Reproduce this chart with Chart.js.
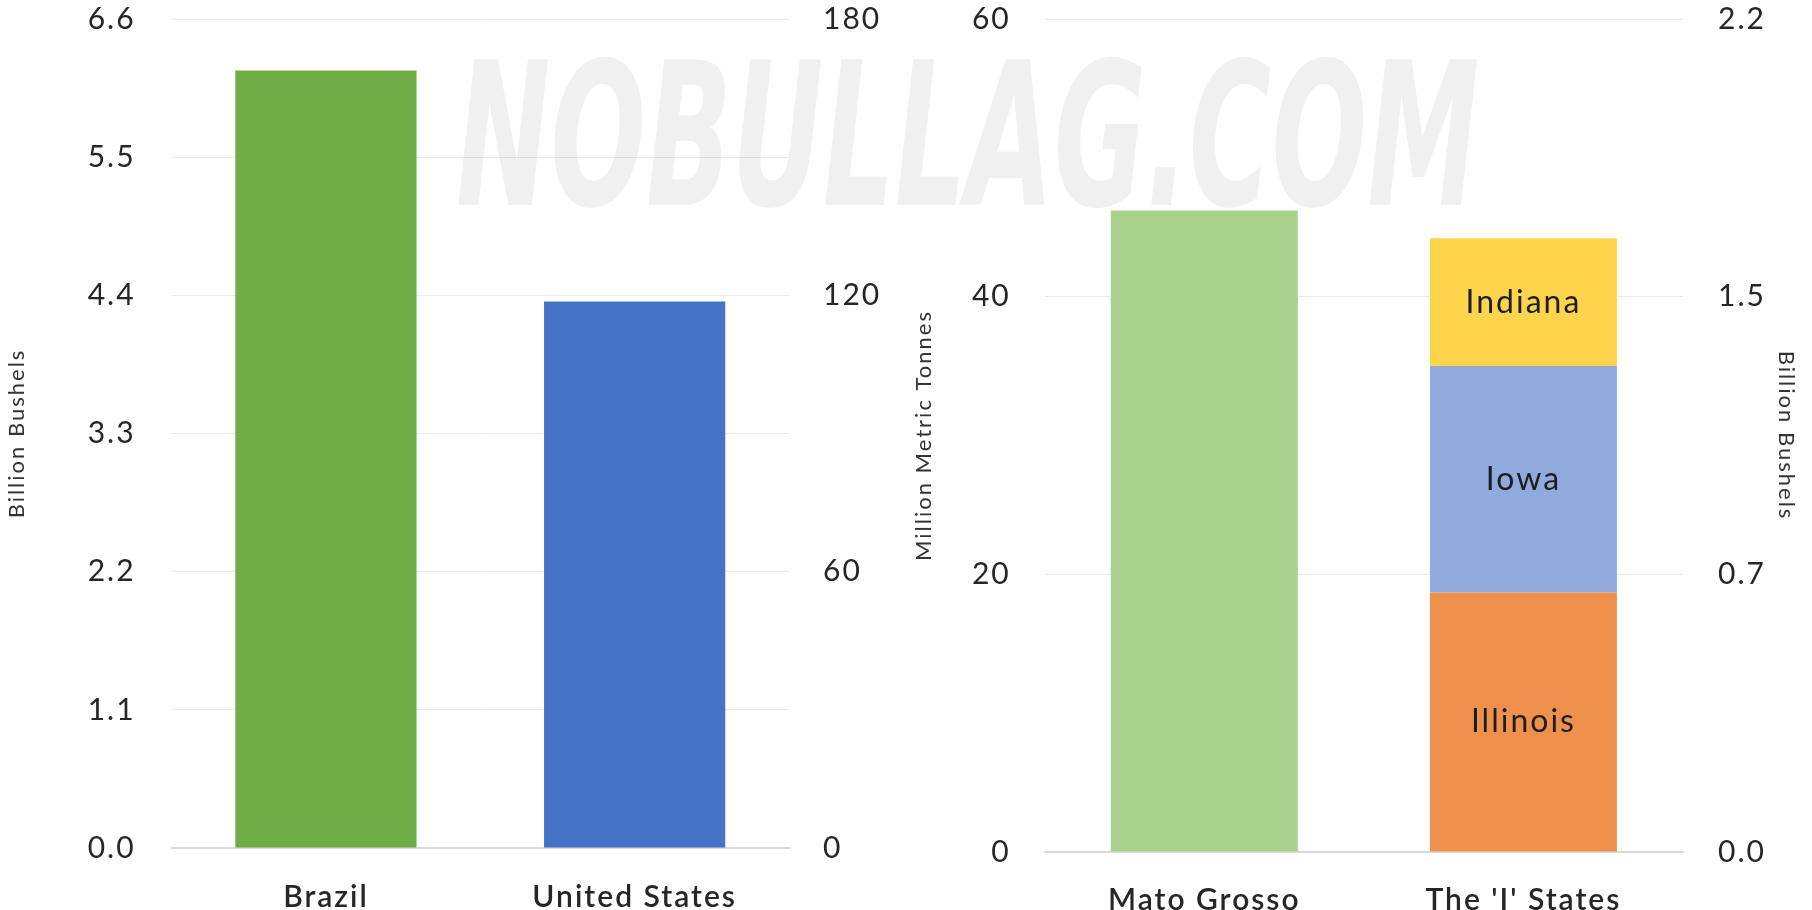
<!DOCTYPE html>
<html>
<head>
<meta charset="utf-8">
<script src="https://cdn.jsdelivr.net/npm/chart.js@4.4.0/dist/chart.umd.min.js"></script>
<style>
html, body { margin: 0; padding: 0; background: #fff; }
#wrap { position: relative; width: 1812px; height: 910px; overflow: hidden; }
#leftBox { position: absolute; left: 0; top: 0; width: 889px; height: 910px; }
#rightBox { position: absolute; left: 889px; top: 0; width: 923px; height: 910px; }
#mark {
    position: absolute; left: 456px; top: 36px; display: inline-block;
    font: italic bold 200px "Liberation Sans Narrow", "DejaVu Sans Condensed", sans-serif;
    color: rgba(0, 0, 0, 0.06); white-space: nowrap; pointer-events: none;
    transform-origin: 0 0; line-height: 1;
}
</style>
</head>
<body>
<div id="wrap">
    <div id="leftBox"><canvas id="leftChart"></canvas></div>
    <div id="rightBox"><canvas id="rightChart"></canvas></div>
    <span id="mark">NOBULLAG.COM</span>
</div>
<script>
// left panel: country totals, billion bushels
const countries = ['Brazil', 'United States'];
const countryBushels = [6.19, 4.35];
const bushelTicks = ['0.0', '1.1', '2.2', '3.3', '4.4', '5.5', '6.6'];
const tonneTicks = ['0', '60', '120', '180'];

// right panel: million metric tonnes
const regions = ['Mato Grosso', "The 'I' States"];
const matoGrosso = [46.2, null];
const illinois = [null, 18.7];
const iowa = [null, 16.3];
const indiana = [null, 9.2];
const mmtTicks = ['0', '20', '40', '60'];
const stateBushelTicks = ['0.0', '0.7', '1.5', '2.2'];

// squeeze the watermark to its width in the picture
const mark = document.getElementById('mark');
mark.style.transform = 'scaleX(' + (1023 / mark.offsetWidth) + ')';

const spacing = {
    id: 'spacing',
    beforeUpdate(chart) { chart.ctx.letterSpacing = '2px'; },
    beforeDraw(chart) { chart.ctx.letterSpacing = '2px'; }
};

// writes the state name in the middle of each stacked piece
const segmentNames = {
    id: 'segmentNames',
    afterDatasetsDraw(chart) {
        const ctx = chart.ctx;
        ctx.save();
        ctx.font = '32px Lato';
        ctx.fillStyle = '#1e1e1e';
        ctx.textAlign = 'center';
        ctx.textBaseline = 'middle';
        chart.data.datasets.forEach(function (ds, i) {
            if (!ds.showName) return;
            chart.getDatasetMeta(i).data.forEach(function (bar, j) {
                if (ds.data[j] == null) return;
                const p = bar.getProps(['x', 'y', 'base'], true);
                ctx.fillText(ds.label, p.x, (p.y + p.base) / 2);
            });
        });
        ctx.restore();
    }
};

// fixed axis width, and no extra room asked for the end labels
function fixWidth(w) {
    return function (s) { s.width = w; s.paddingTop = 0; s.paddingBottom = 0; };
}

const tickFont = { family: 'Lato', size: 30 };
const catFont = { family: 'Lato', size: 30, weight: '600' };
const titleFont = { family: 'Lato', size: 22 };
const gridColor = '#e9e9e9';

new Chart(document.getElementById('leftChart'), {
    type: 'bar',
    data: {
        labels: countries,
        datasets: [{
            label: 'Production',
            data: countryBushels,
            backgroundColor: ['#70AD47', '#4472C4'],
            categoryPercentage: 1,
            barPercentage: 0.587
        }]
    },
    options: {
        responsive: true, maintainAspectRatio: false, animation: false,
        layout: { padding: { top: 19, left: 0, right: 0, bottom: 0 } },
        plugins: { legend: { display: false }, tooltip: { enabled: false } },
        scales: {
            x: {
                grid: { display: false, drawTicks: false },
                border: { color: '#d9d9d9', width: 2 },
                ticks: { font: catFont, color: '#262626', padding: 31 },
                afterFit: function (s) { s.height = 62; }
            },
            y: {
                position: 'left', min: 0, max: 6.6,
                grid: { color: gridColor, drawTicks: false },
                border: { display: false },
                ticks: { stepSize: 1.1, font: tickFont, color: '#262626', padding: 36,
                    callback: function (v, i) { return bushelTicks[i]; } },
                title: { display: true, text: 'Billion Bushels', font: titleFont, color: '#333333',
                    padding: { top: 4, bottom: 0 } },
                afterFit: fixWidth(171.6)
            },
            y2: {
                position: 'right', min: 0, max: 6.6,
                grid: { display: false, drawTicks: false },
                border: { display: false },
                ticks: { stepSize: 2.2, font: tickFont, color: '#262626', padding: 34,
                    callback: function (v, i) { return tonneTicks[i]; } },
                afterFit: fixWidth(100)
            }
        }
    },
    plugins: [spacing]
});

new Chart(document.getElementById('rightChart'), {
    type: 'bar',
    data: {
        labels: regions,
        datasets: [
            { label: 'Mato Grosso', data: matoGrosso, backgroundColor: '#A9D18E' },
            { label: 'Illinois', data: illinois, backgroundColor: '#EF914C', showName: true },
            { label: 'Iowa', data: iowa, backgroundColor: '#8FAADC', showName: true },
            { label: 'Indiana', data: indiana, backgroundColor: '#FFD44D', showName: true }
        ]
    },
    options: {
        responsive: true, maintainAspectRatio: false, animation: false,
        datasets: { bar: { categoryPercentage: 1, barPercentage: 0.586 } },
        layout: { padding: { top: 19, left: 0, right: 0, bottom: 0 } },
        plugins: { legend: { display: false }, tooltip: { enabled: false } },
        scales: {
            x: {
                stacked: true,
                grid: { display: false, drawTicks: false },
                border: { color: '#d9d9d9', width: 2 },
                ticks: { font: catFont, color: '#262626', padding: 30 },
                afterFit: function (s) { s.height = 58; }
            },
            y: {
                stacked: true, position: 'left', min: 0, max: 60,
                grid: { color: gridColor, drawTicks: false },
                border: { display: false },
                ticks: { stepSize: 20, font: tickFont, color: '#262626', padding: 34,
                    callback: function (v, i) { return mmtTicks[i]; } },
                title: { display: true, text: 'Million Metric Tonnes', font: titleFont, color: '#333333',
                    padding: { top: 22, bottom: 0 } },
                afterFit: fixWidth(155.7)
            },
            y2: {
                position: 'right', min: 0, max: 60,
                grid: { display: false, drawTicks: false },
                border: { display: false },
                ticks: { stepSize: 20, font: tickFont, color: '#262626', padding: 35,
                    callback: function (v, i) { return stateBushelTicks[i]; } },
                title: { display: true, text: 'Billion Bushels', font: titleFont, color: '#333333',
                    padding: { top: 13, bottom: 0 } },
                afterFit: fixWidth(129)
            }
        }
    },
    plugins: [spacing, segmentNames]
});
</script>
</body>
</html>
